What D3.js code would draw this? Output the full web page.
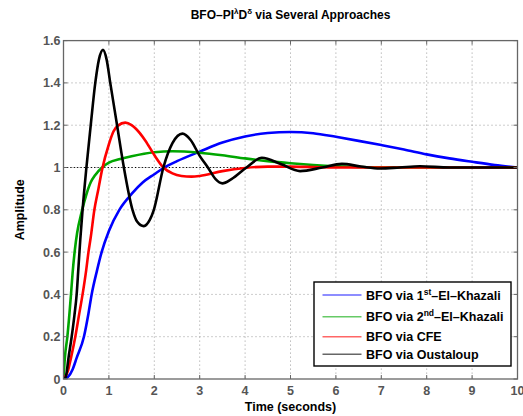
<!DOCTYPE html>
<html><head><meta charset="utf-8">
<script src="https://cdn.jsdelivr.net/npm/d3@7"></script>
<style>
html,body{margin:0;padding:0;background:#fff;}
svg text{font-family:"Liberation Sans",Arial,Helvetica,sans-serif;font-weight:bold;}
</style></head>
<body>
<svg id="chart" width="523" height="416"></svg>
<script>
// ---- data ----
const xTicks = [0,1,2,3,4,5,6,7,8,9,10];
const yTicks = [0,0.2,0.4,0.6,0.8,1,1.2,1.4,1.6];
const yTickLabels = ["0","0.2","0.4","0.6","0.8","1","1.2","1.4","1.6"];
const seriesNames = ["1st", "2nd", "CFE", "Oustaloup"];

const elKhazali1 = [[0,0],[0.1,0.01],[0.2,0.045],[0.29,0.1],[0.45,0.2],[0.55,0.31],[0.62,0.4],[0.74,0.515],[0.84,0.6],[1.0,0.7],[1.23,0.8],[1.5,0.875],[1.75,0.93],[2.0,0.968],[2.2,0.997],[2.5,1.03],[3.0,1.075],[3.5,1.118],[4.0,1.147],[4.5,1.163],[5.0,1.168],[5.5,1.162],[6.0,1.145],[6.5,1.126],[7.0,1.106],[7.5,1.085],[8.0,1.062],[8.5,1.043],[9.0,1.027],[9.5,1.012],[10,1.0]];
const elKhazali2 = [[0,0],[0.03,0.1],[0.085,0.2],[0.165,0.4],[0.2,0.5],[0.25,0.61],[0.3,0.69],[0.4,0.79],[0.5,0.87],[0.6,0.93],[0.7,0.965],[0.85,1.0],[1.0,1.023],[1.25,1.04],[1.5,1.053],[2.0,1.072],[2.4,1.077],[3.0,1.07],[3.5,1.058],[4.0,1.043],[4.5,1.03],[5.0,1.02],[5.5,1.012],[6.0,1.006],[7.0,1.001],[8,1.0],[10,1.0]];
const cfe = [[0,0],[0.1,0.04],[0.165,0.1],[0.26,0.2],[0.34,0.3],[0.42,0.4],[0.5,0.515],[0.55,0.6],[0.6,0.67],[0.68,0.8],[0.77,0.9],[0.85,0.99],[1.0,1.11],[1.1,1.17],[1.2,1.198],[1.36,1.212],[1.5,1.2],[1.6,1.182],[1.8,1.128],[2.0,1.059],[2.2,1.0],[2.4,0.972],[2.6,0.96],[2.82,0.957],[3.0,0.96],[3.5,0.983],[4.0,0.998],[4.5,1.004],[5.0,1.004],[5.5,1.002],[6,1.0],[10,1.0]];
const oustaloup = [[0,0],[0.05,0.01],[0.11,0.1],[0.18,0.2],[0.24,0.3],[0.29,0.4],[0.33,0.53],[0.37,0.66],[0.42,0.8],[0.5,0.99],[0.6,1.2],[0.7,1.4],[0.78,1.51],[0.87,1.556],[0.95,1.51],[1.03,1.4],[1.18,1.2],[1.33,1.0],[1.52,0.8],[1.62,0.745],[1.77,0.723],[1.9,0.752],[1.99,0.8],[2.2,1.0],[2.4,1.115],[2.62,1.16],[2.8,1.13],[3.0,1.055],[3.18,1.0],[3.35,0.945],[3.5,0.925],[3.7,0.945],[4.03,1.0],[4.37,1.046],[4.8,1.015],[5.21,0.983],[5.7,1.0],[6.13,1.017],[6.55,1.005],[6.97,0.995],[7.4,1.0],[7.85,1.006],[8.5,1.0],[10,1.0]];

// ---- layout ----
const svg = d3.select("#chart");
const L = 63.5, R = 517.5, T = 40.6, B = 379;
const x = d3.scaleLinear().domain([0,10]).range([L,R]);
const y = d3.scaleLinear().domain([0,1.6]).range([B,T]);

// grid
const g = svg.append("g");
g.selectAll(".vg").data(xTicks.slice(1,-1)).join("line")
  .attr("x1",d=>x(d)).attr("x2",d=>x(d)).attr("y1",T).attr("y2",B)
  .attr("stroke","#9a9a9a").attr("stroke-width",1).attr("stroke-dasharray","1,3");
g.selectAll(".hg").data(yTicks.slice(1,-1)).join("line")
  .attr("x1",L).attr("x2",R).attr("y1",d=>y(d)).attr("y2",d=>y(d))
  .attr("stroke","#9a9a9a").attr("stroke-width",1).attr("stroke-dasharray","1,3");

// reference line y=1
svg.append("line").attr("x1",x(0)).attr("x2",x(10)).attr("y1",y(1)).attr("y2",y(1))
  .attr("stroke","#000").attr("stroke-width",1.2).attr("stroke-dasharray","1.2,2.2");

// clip
svg.append("clipPath").attr("id","clip").append("rect")
  .attr("x",L).attr("y",T).attr("width",R-L).attr("height",B-T);

const line = d3.line().x(d=>x(d[0])).y(d=>y(d[1])).curve(d3.curveMonotoneX);
const series = [
  {data: elKhazali1, color:"#0000ff"},
  {data: elKhazali2, color:"#00a600"},
  {data: cfe, color:"#ff0000"},
  {data: oustaloup, color:"#000000"}
];
const cg = svg.append("g").attr("clip-path","url(#clip)");
series.forEach(s=>{
  cg.append("path").attr("d",line(s.data)).attr("fill","none")
    .attr("stroke",s.color).attr("stroke-width",2.6).attr("stroke-linejoin","round");
});

// axes box
const axisColor = "#666";
svg.append("rect").attr("x",L).attr("y",T).attr("width",R-L).attr("height",B-T)
  .attr("fill","none").attr("stroke",axisColor).attr("stroke-width",1.3);

// ticks (inward, all four sides)
const tl = 4;
const ax = svg.append("g").attr("stroke",axisColor).attr("stroke-width",1);
xTicks.forEach(t=>{
  ax.append("line").attr("x1",x(t)).attr("x2",x(t)).attr("y1",B).attr("y2",B-tl);
  ax.append("line").attr("x1",x(t)).attr("x2",x(t)).attr("y1",T).attr("y2",T+tl);
});
yTicks.forEach(t=>{
  ax.append("line").attr("x1",L).attr("x2",L+tl).attr("y1",y(t)).attr("y2",y(t));
  ax.append("line").attr("x1",R).attr("x2",R-tl).attr("y1",y(t)).attr("y2",y(t));
});

// tick labels
svg.append("g").selectAll("text").data(xTicks).join("text")
  .attr("x",d=>x(d)).attr("y",B+16).attr("text-anchor","middle")
  .attr("font-size","12.5px").attr("fill","#555").text(d=>d);
svg.append("g").selectAll("text").data(yTicks).join("text")
  .attr("x",L-3).attr("y",(d)=>y(d)+4.5).attr("text-anchor","end")
  .attr("font-size","12.5px").attr("fill","#555").text((d,i)=>yTickLabels[i]);

// axis labels
svg.append("text").attr("x",(L+R)/2).attr("y",410.5).attr("text-anchor","middle")
  .attr("font-size","12.5px").attr("fill","#000").text("Time (seconds)");
svg.append("text").attr("transform",`translate(24,${(T+B)/2}) rotate(-90)`)
  .attr("text-anchor","middle").attr("font-size","12.5px").attr("fill","#000").text("Amplitude");

// title
const title = svg.append("text").attr("x",(L+R)/2).attr("y",18.5).attr("text-anchor","middle")
  .attr("font-size","12px").attr("fill","#000");
title.append("tspan").text("BFO–PI");
title.append("tspan").attr("dy","-5").attr("font-size","8px").text("λ");
title.append("tspan").attr("dy","5").text("D");
title.append("tspan").attr("dy","-5").attr("font-size","8px").text("δ");
title.append("tspan").attr("dy","5").text(" via Several Approaches");

// legend
const lg = svg.append("g");
lg.append("rect").attr("x",314).attr("y",282).attr("width",197).attr("height",84)
  .attr("fill","#fff").attr("stroke","#000").attr("stroke-width",1.4);
const rowsY = [295, 316.7, 336.7, 354.3];
const legendColors = series.map(s=>s.color);
rowsY.forEach((ry,i)=>{
  lg.append("line").attr("x1",322.5).attr("x2",361.5).attr("y1",ry).attr("y2",ry)
    .attr("stroke",legendColors[i]).attr("stroke-width",1.5).attr("stroke-opacity",0.6);
  const t = lg.append("text").attr("x",366).attr("y",ry+4.5).attr("font-size","12.5px").attr("fill","#000");
  if (i===0 || i===1) {
    t.append("tspan").text(i===0 ? "BFO via 1" : "BFO via 2");
    t.append("tspan").attr("dy","-5").attr("font-size","8.5px").text(seriesNames[i].slice(1));
    t.append("tspan").attr("dy","5").text("–El–Khazali");
  } else {
    t.text("BFO via " + seriesNames[i]);
  }
});
</script>
</body></html>
